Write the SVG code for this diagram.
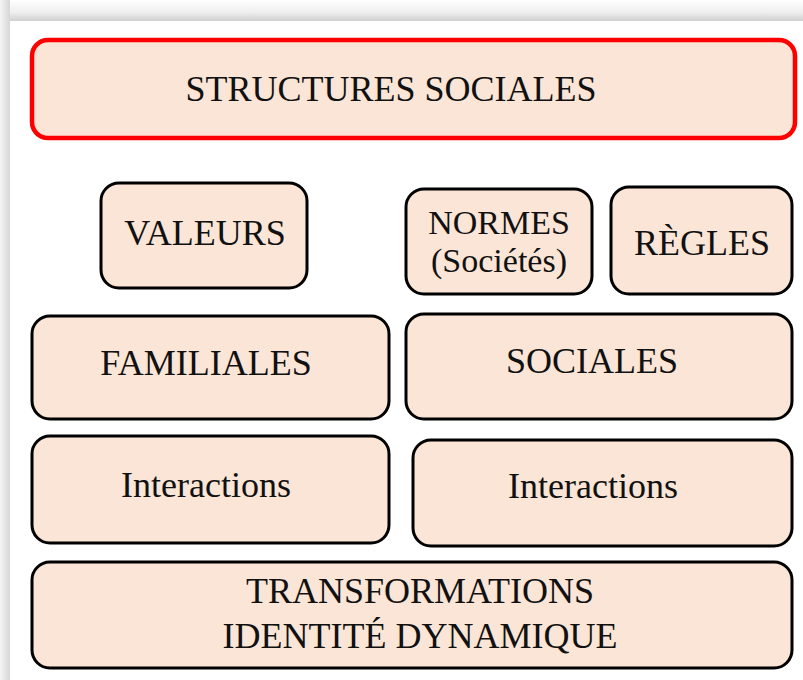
<svg xmlns="http://www.w3.org/2000/svg" width="803" height="680" viewBox="0 0 803 680">
<defs>
<linearGradient id="topShade" x1="0" y1="0" x2="0" y2="1">
<stop offset="0" stop-color="#ffffff"/>
<stop offset="0.6" stop-color="#eeeeee"/>
<stop offset="1" stop-color="#cfcfcf"/>
</linearGradient>
<linearGradient id="leftShade" x1="0" y1="0" x2="1" y2="0">
<stop offset="0" stop-color="#f4f4f4"/>
<stop offset="1" stop-color="#d6d6d6"/>
</linearGradient>
</defs>
<style>
.box{fill:#FBE5D6;stroke:#000;stroke-width:3}
.red{fill:#FBE5D6;stroke:#FF0000;stroke-width:4.5}
.t{font-family:"Liberation Serif","Times New Roman",serif;font-size:36px;fill:#111;text-anchor:middle}
.s{font-size:34px}
</style>
<rect x="0" y="0" width="803" height="680" fill="#ffffff"/>
<rect x="0" y="0" width="803" height="21" fill="url(#topShade)"/>
<rect x="0" y="0" width="10" height="680" fill="url(#leftShade)"/>
<rect x="10" y="21" width="793" height="659" fill="#ffffff"/>
<g id="connectors"/>
<g id="structures">
<rect class="red" x="32" y="40" width="763" height="98" rx="16"/>
<text class="t" x="391" y="101">STRUCTURES SOCIALES</text>
</g>
<g id="valeurs">
<rect class="box" x="101" y="183" width="206" height="105" rx="18"/>
<text class="t" x="205" y="245">VALEURS</text>
</g>
<g id="normes">
<rect class="box" x="406" y="189" width="186" height="105" rx="18"/>
<text class="t s" x="499" y="234">NORMES</text>
<text class="t s" x="499" y="272">(Sociétés)</text>
</g>
<g id="regles">
<rect class="box" x="611" y="187" width="181" height="107" rx="18"/>
<text class="t" x="702" y="255">RÈGLES</text>
</g>
<g id="familiales">
<rect class="box" x="32" y="316" width="357" height="103" rx="18"/>
<text class="t" x="206" y="375">FAMILIALES</text>
</g>
<g id="sociales">
<rect class="box" x="406" y="314" width="386" height="105" rx="18"/>
<text class="t" x="592" y="373">SOCIALES</text>
</g>
<g id="interactions-fam">
<rect class="box" x="32" y="436" width="357" height="107" rx="18"/>
<text class="t" x="206" y="497">Interactions</text>
</g>
<g id="interactions-soc">
<rect class="box" x="413" y="440" width="379" height="106" rx="18"/>
<text class="t" x="593" y="498">Interactions</text>
</g>
<g id="transformations">
<rect class="box" x="32" y="562" width="760" height="106" rx="18"/>
<text class="t" x="420" y="603">TRANSFORMATIONS</text>
<text class="t" x="420" y="648">IDENTITÉ DYNAMIQUE</text>
</g>
</svg>
